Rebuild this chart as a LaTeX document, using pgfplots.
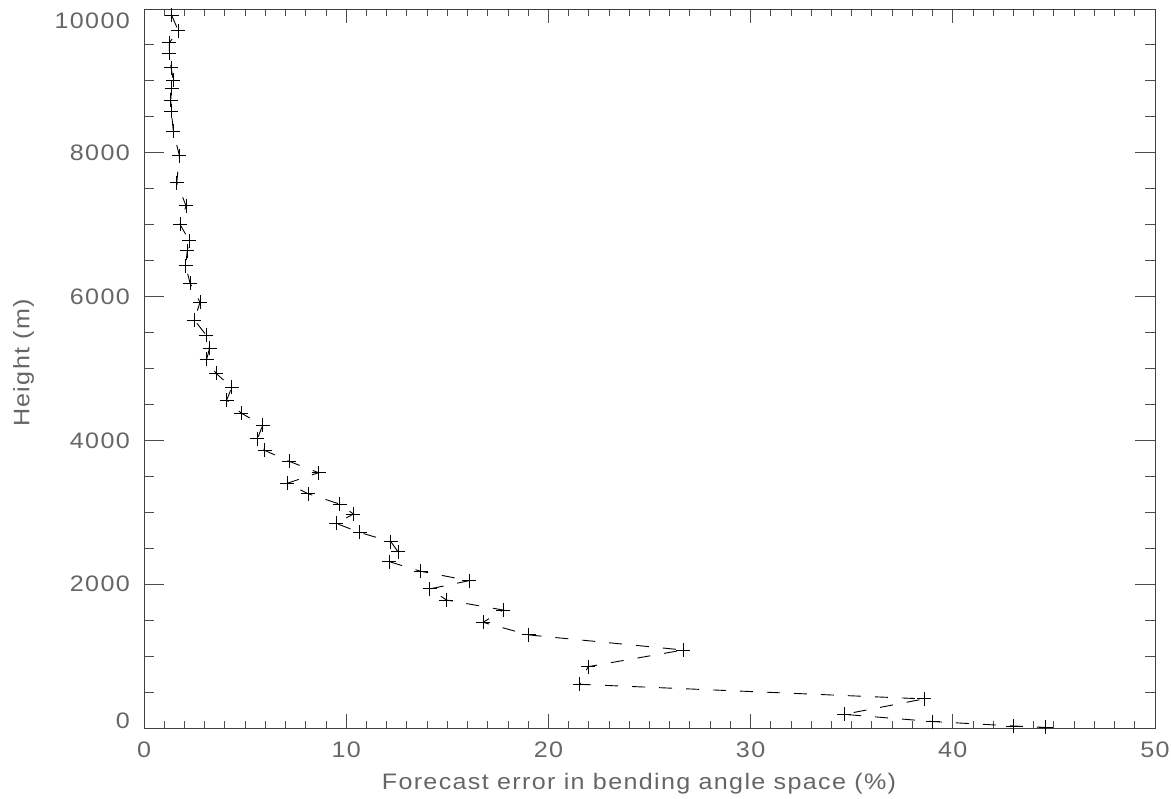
\documentclass[border=0pt]{standalone}
\usepackage{fontspec}
\setmainfont{Liberation Sans}[FakeStretch=1.12, LetterSpace=6]
\usepackage{pgfplots}
\pgfplotsset{compat=1.18}

% forecast error profile: error (%) versus height (m)
\pgfplotstableread{
err    h
1.37   9910
1.70   9698
1.25   9531
1.25   9384
1.34   9184
1.45   9012
1.37   8896
1.32   8734
1.35   8581
1.45   8303
1.75   7960
1.62   7584
2.08   7264
1.78   7005
2.24   6778
2.14   6635
2.06   6429
2.28   6185
2.77   5920
2.49   5675
3.07   5466
3.24   5281
3.10   5128
3.56   4933
4.34   4738
4.09   4562
4.80   4381
5.87   4209
5.61   4024
5.97   3861
7.19   3708
8.63   3551
7.08   3403
8.13   3257
9.67   3115
10.36  2976
9.50   2846
10.66  2721
12.21  2591
12.56  2452
12.14  2313
13.68  2180
16.08  2049
14.14  1935
14.96  1780
17.76  1641
16.77  1470
19.02  1295
26.67  1085
21.96  853
21.55  608
38.58  405
34.62  190
39.00  90
43.00  28
44.60  8
}\errprofile

\begin{document}
\begin{tikzpicture}
\begin{axis}[
  name=ax,
  scale only axis, width=1011pt, height=719pt,
  xmin=0, xmax=50, ymin=0, ymax=10000,
  xtick={0,10,...,50}, ytick={0,2000,...,10000},
  minor x tick num=9, minor y tick num=3,
  tick align=inside,
  every major x tick/.append style={/pgfplots/major tick length=14.4pt},
  every minor x tick/.append style={/pgfplots/minor tick length=7.2pt},
  every major y tick/.append style={/pgfplots/major tick length=20.2pt},
  every minor y tick/.append style={/pgfplots/minor tick length=10.1pt},
  axis line style={line width=0.9pt, black!75},
  tick style={line width=0.9pt, black!70},
  scaled y ticks=false,
  /pgf/number format/assume math mode=true,
  /pgf/number format/1000 sep={},
  ticklabel style={font=\fontsize{22.4}{26}\selectfont, text=black!60, inner sep=0pt},
  xticklabel style={anchor=north, yshift=-14pt},
  yticklabel style={anchor=east, xshift=-14pt},
  % the end labels sit slightly inside the axis range
  yticklabel={\ifnum\ticknum=0 \raisebox{-0.5pt}[0pt][0pt]{\pgfmathprintnumber{\tick}}%
    \else\ifnum\ticknum=5 \raisebox{-20pt}[0pt][0pt]{\pgfmathprintnumber{\tick}}%
    \else\pgfmathprintnumber{\tick}\fi\fi},
  label style={font=\fontsize{22.4}{26}\selectfont, text=black!60, inner sep=0pt},
  xlabel={Forecast error in bending angle space (\%)},
  ylabel={Height (m)},
  xlabel style={at={(axis description cs:0.4896,-0.0626)}, anchor=north},
  ylabel style={at={(axis description cs:-0.1296,0.5077)}, anchor=north},
]
\addplot[black, line width=0.9pt, dash pattern=on 13pt off 14pt,
  mark=+, mark size=7pt, mark options={solid, line width=0.9pt}]
  table[x=err, y=h] {\errprofile};
\end{axis}
\pgfresetboundingbox
\path ([shift={(-144pt,-70pt)}]ax.south west) rectangle ([shift={(16pt,9pt)}]ax.north east);
\end{tikzpicture}
\end{document}
